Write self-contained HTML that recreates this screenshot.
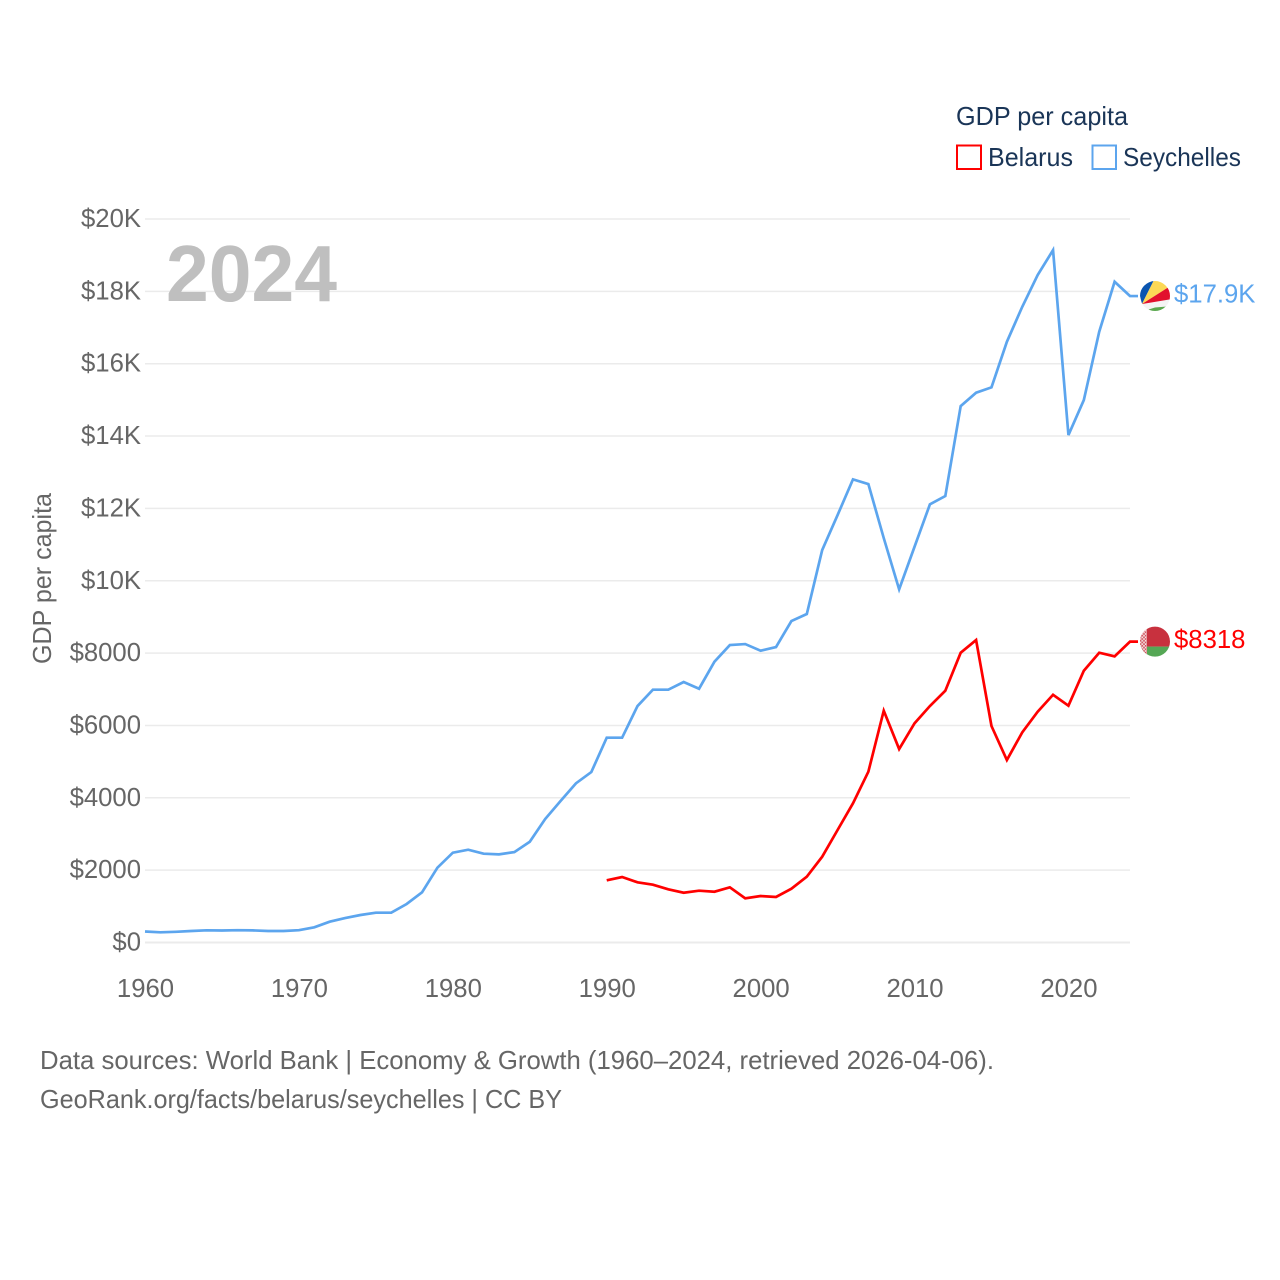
<!DOCTYPE html>
<html lang="en">
<head>
<meta charset="utf-8">
<title>GDP per capita: Belarus and Seychelles</title>
<style>
html,body{margin:0;padding:0;background:#fff;width:1280px;height:1280px;overflow:hidden}
svg{display:block}
text{font-family:"Liberation Sans",sans-serif}
.tick{font-size:25.7px;fill:#666}
.legend{font-size:25.7px;fill:#1a3557}
.foot{font-size:25.7px;fill:#666}
</style>
</head>
<body>
<svg id="chart" xmlns="http://www.w3.org/2000/svg" width="1280" height="1280" viewBox="0 0 1280 1280">
  <defs>
    <clipPath id="flag-clip"><circle cx="0" cy="0" r="15"/></clipPath>
    <pattern id="ornament" width="3.4" height="3.4" patternUnits="userSpaceOnUse">
      <rect width="3.4" height="3.4" fill="#f6e6e7"/>
      <rect width="1.7" height="1.7" fill="#d0505b"/>
      <rect x="1.7" y="1.7" width="1.7" height="1.7" fill="#d0505b"/>
    </pattern>
  </defs>

  <g id="grid"></g>
  <g id="y-labels"></g>
  <g id="x-labels"></g>

  <text class="tick" transform="translate(51,664) rotate(-90)" textLength="171" lengthAdjust="spacingAndGlyphs">GDP per capita</text>

  <text x="166" y="301" font-size="80" font-weight="700" fill="#bfbfbf" textLength="171" lengthAdjust="spacingAndGlyphs">2024</text>

  <path id="line-seychelles" fill="none" stroke="#5ca5ee" stroke-width="2.7" stroke-linejoin="miter"/>
  <path id="line-belarus" fill="none" stroke="#ff0000" stroke-width="2.7" stroke-linejoin="miter"/>

  <g id="flag-seychelles">
    <g clip-path="url(#flag-clip)">
      <rect x="-16" y="-16" width="32" height="32" fill="#f4f4f4"/>
      <polygon points="-13,8 -20,-20 1,-20" fill="#0b55b0"/>
      <polygon points="-13,8 1,-20 20,-20 20,-13" fill="#fcd856"/>
      <polygon points="-13,8 20,-13 20,2.5" fill="#e2102d"/>
      <polygon points="-8,14 0,11.5 12,10.5 20,10 20,20 -8,20" fill="#5ba84f"/>
    </g>
  </g>
  <g id="flag-belarus">
    <g clip-path="url(#flag-clip)">
      <rect x="-16" y="-16" width="32" height="21" fill="#c8313e"/>
      <rect x="-16" y="5" width="32" height="11" fill="#55a755"/>
      <rect x="-16" y="-16" width="8" height="32" fill="url(#ornament)"/>
    </g>
  </g>
  <text id="label-seychelles" x="1174" font-size="25.7" fill="#5ca5ee"></text>
  <text id="label-belarus" x="1174" font-size="25.7" fill="#ff0000"></text>

  <g>
    <text class="legend" x="956" y="125" textLength="172" lengthAdjust="spacingAndGlyphs">GDP per capita</text>
    <rect x="957" y="145.5" width="24" height="23.5" fill="#fff" stroke="#ff0000" stroke-width="2"/>
    <text class="legend" x="988" y="166" textLength="85" lengthAdjust="spacingAndGlyphs">Belarus</text>
    <rect x="1092.5" y="145.5" width="23.5" height="23.5" fill="#fff" stroke="#5ca5ee" stroke-width="2"/>
    <text class="legend" x="1123" y="166" textLength="118" lengthAdjust="spacingAndGlyphs">Seychelles</text>
  </g>

  <text class="foot" x="40" y="1069" textLength="954" lengthAdjust="spacingAndGlyphs">Data sources: World Bank | Economy &amp; Growth (1960–2024, retrieved 2026-04-06).</text>
  <text class="foot" x="40" y="1108" textLength="522" lengthAdjust="spacingAndGlyphs">GeoRank.org/facts/belarus/seychelles | CC BY</text>
</svg>

<script>
const yTicks = [0, 2000, 4000, 6000, 8000, 10000, 12000, 14000, 16000, 18000, 20000];
const yTickLabels = ["$0", "$2000", "$4000", "$6000", "$8000", "$10K", "$12K", "$14K", "$16K", "$18K", "$20K"];
const xTicks = [1960, 1970, 1980, 1990, 2000, 2010, 2020];
const seychellesStartYear = 1960;
const seychellesValues = [
  304, 282, 296, 318, 337, 332, 340, 335, 318, 318,
  340, 420, 575, 677, 760, 824, 824, 1064, 1387, 2068,
  2482, 2565, 2455, 2437, 2500, 2786, 3413, 3911, 4400, 4712,
  5661, 5661, 6537, 6988, 6988, 7200, 7015, 7762, 8223, 8250,
  8066, 8168, 8887, 9080, 10849, 11816, 12803, 12673, 11180, 9762,
  10940, 12112, 12341, 14829, 15197, 15346, 16606, 17574, 18450, 19140,
  14027, 14994, 16883, 18265, 17870
];
const belarusStartYear = 1990;
const belarusValues = [
  1719, 1810, 1664, 1598, 1470, 1376, 1432, 1404, 1526, 1222,
  1285, 1258, 1487, 1819, 2372, 3110, 3847, 4721, 6407, 5348,
  6058, 6537, 6960, 8010, 8361, 5984, 5044, 5810, 6380, 6849,
  6545, 7512, 8010, 7910, 8318
];

const NS = "http://www.w3.org/2000/svg";
const xScale = year => 145 + (year - 1960) * (1130 - 145) / 64;
const yScale = value => 942.5 - value * (942.5 - 219) / 20000;
const formatValue = v => v >= 10000 ? "$" + (v / 1000).toFixed(1) + "K" : "$" + Math.round(v);

const grid = document.getElementById("grid");
const yLabels = document.getElementById("y-labels");
const xLabels = document.getElementById("x-labels");

yTicks.forEach((tick, i) => {
  const line = document.createElementNS(NS, "line");
  
  
  line.setAttribute("x1", 145);
  line.setAttribute("x2", 1130);
  line.setAttribute("y1", yScale(tick));
  line.setAttribute("y2", yScale(tick));
  line.setAttribute("stroke", "#ebebeb");
  line.setAttribute("stroke-width", tick === 0 ? 2 : 1.5);
  grid.appendChild(line);

  const label = document.createElementNS(NS, "text");
  
  
  label.setAttribute("class", "tick");
  label.setAttribute("x", 141);
  label.setAttribute("y", yScale(tick) + 8);
  label.setAttribute("text-anchor", "end");
  label.textContent = yTickLabels[i];
  yLabels.appendChild(label);
});

xTicks.forEach(tick => {
  const label = document.createElementNS(NS, "text");
  
  
  label.setAttribute("class", "tick");
  label.setAttribute("x", xScale(tick) + 0.5);
  label.setAttribute("y", 997);
  label.setAttribute("text-anchor", "middle");
  label.textContent = tick;
  xLabels.appendChild(label);
});

function drawSeries(values, startYear, lineId, flagId, labelId) {
  const points = values.map((v, i) => xScale(startYear + i).toFixed(2) + " " + yScale(v).toFixed(2));
  const lastY = yScale(values[values.length - 1]);
  document.getElementById(lineId).setAttribute("d", "M" + points.join("L") + "L1138 " + lastY.toFixed(2));
  document.getElementById(flagId).setAttribute("transform", "translate(1155," + lastY.toFixed(2) + ")");
  const label = document.getElementById(labelId);
  label.setAttribute("y", (lastY + 6.5).toFixed(2));
  label.textContent = formatValue(values[values.length - 1]);
}

drawSeries(seychellesValues, seychellesStartYear, "line-seychelles", "flag-seychelles", "label-seychelles");
drawSeries(belarusValues, belarusStartYear, "line-belarus", "flag-belarus", "label-belarus");
</script>
</body>
</html>
